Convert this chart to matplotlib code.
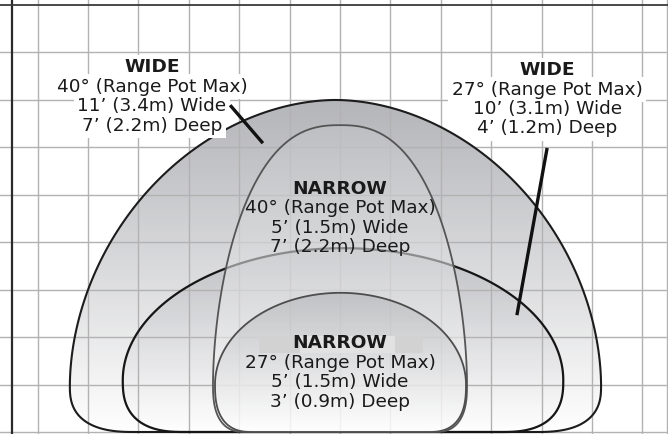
import numpy as np
import matplotlib

matplotlib.use("Agg")

import matplotlib.pyplot as plt
from matplotlib.path import Path
from matplotlib.patches import PathPatch, Rectangle
from matplotlib.colors import to_rgb


plt.rcParams["font.family"] = ["DejaVu Sans"]

# coverage patterns, in grid cells (x from centre line, y up from the floor)
names = ["wide40", "wide27", "narrow40", "narrow27"]
centres = [-0.09, 0.06, 0.0, 0.01]
half_widths = [5.27, 4.37, 2.52, 2.49]
tops = [6.99, 3.87, 6.46, 2.93]
widest_at = [0.97, 1.09, 1.0, 1.0]
corner_radius = [1.3, 1.23, 0.65, 0.75]
exp_x = [1.9, 2.0, 2.5, 2.0]
exp_y = [1.9, 2.0, 1.8, 2.0]

labels = {
    "wide40": ["WIDE", "40° (Range Pot Max)", "11’ (3.4m) Wide", "7’ (2.2m) Deep"],
    "wide27": ["WIDE", "27° (Range Pot Max)", "10’ (3.1m) Wide", "4’ (1.2m) Deep"],
    "narrow40": ["NARROW", "40° (Range Pot Max)", "5’ (1.5m) Wide", "7’ (2.2m) Deep"],
    "narrow27": ["NARROW", "27° (Range Pot Max)", "5’ (1.5m) Wide", "3’ (0.9m) Deep"],
}

styles = {
    "wide40": dict(edge="#1c1c1c", lw=1.5, top="#a7a8ad", alpha=0.85, z=2, ze=3.6),
    "wide27": dict(edge="#161616", lw=1.6, top="#b1b2b7", alpha=0.6, z=3, ze=3.7),
    "narrow40": dict(edge="#555555", lw=1.3, top="#c2c3c6", alpha=0.6, z=4, ze=4.5),
    "narrow27": dict(edge="#4d4d4d", lw=1.3, top="#b4b5b8", alpha=0.65, z=5, ze=5.5),
}

# px -> grid cell scale
cell_x, cell_y = 50.4, 47.5
x_lo, x_hi = (0 - 340) / cell_x, (668 - 340) / cell_x
y_lo, y_hi = (432 - 434) / cell_y, 432 / cell_y


def dome_path(cx, a, top, y0, rx, p, q, n=160):
    b = top - y0
    t = np.linspace(0, np.pi, n)
    xs = [cx + a * np.sign(np.cos(t)) * np.abs(np.cos(t)) ** (2 / p)]
    ys = [y0 + b * np.abs(np.sin(t)) ** (2 / q)]
    s = np.linspace(0, np.pi / 2, n // 3)
    e = 2 / 2.6
    # lower left corner
    xs.append(cx - a + rx - rx * np.abs(np.cos(s)) ** e)
    ys.append(y0 - y0 * np.abs(np.sin(s)) ** e)
    # lower right corner, back up to the start
    s = s[::-1]
    xs.append(cx + a - rx + rx * np.abs(np.cos(s)) ** e)
    ys.append(y0 - y0 * np.abs(np.sin(s)) ** e)
    verts = np.column_stack([np.concatenate(xs), np.concatenate(ys)])
    verts = np.vstack([verts, verts[:1]])
    return Path(verts, closed=True)


fig = plt.figure(figsize=(6.68, 4.34), dpi=100)
ax = fig.add_axes([0, 0, 1, 1])
ax.set_xlim(x_lo, x_hi)
ax.set_ylim(y_lo, y_hi)
ax.axis("off")

# grid sits above the wide fills, below the narrow ones
grid_kw = dict(color="#b2b2b2", lw=1.0, zorder=3.5)
for gx in range(-6, 7):
    ax.axvline(gx, **grid_kw)
for gy in range(0, 9):
    ax.axhline(gy, **grid_kw)
ax.axvline((667 - 340) / cell_x, **grid_kw)
ax.axvline((12.5 - 340) / cell_x, color="#2a2a2a", lw=1.6, zorder=20)
ax.axhline((432 - 5) / cell_y, color="#3a3a3a", lw=1.3, zorder=20)

for i, name in enumerate(names):
    st = styles[name]
    path = dome_path(centres[i], half_widths[i], tops[i], widest_at[i],
                     corner_radius[i], exp_x[i], exp_y[i])
    edge = PathPatch(path, facecolor="none", edgecolor=st["edge"],
                     lw=st["lw"], zorder=st["ze"])
    ax.add_patch(edge)
    clip = PathPatch(path, facecolor="none", edgecolor="none")
    ax.add_patch(clip)
    grad = np.linspace(0, 1, 256)[:, None, None]
    c_top = np.array(to_rgb(st["top"]))
    rgba = np.zeros((256, 1, 4))
    rgba[..., :3] = (1 - grad) * np.ones(3) + grad * c_top
    rgba[..., 3] = st["alpha"]
    img = ax.imshow(rgba, extent=[centres[i] - half_widths[i], centres[i] + half_widths[i], 0, tops[i]],
                    origin="lower", aspect="auto", interpolation="bilinear", zorder=st["z"])
    img.set_clip_path(clip)

ax.set_xlim(x_lo, x_hi)
ax.set_ylim(y_lo, y_hi)

# label blocks: centre x, first line y, line step
label_pos = {
    "wide40": (-3.73, 7.68, 0.41),
    "wide27": (4.11, 7.62, 0.41),
    "narrow40": (0.0, 5.12, 0.41),
    "narrow27": (0.0, 1.87, 0.41),
}
for name, (lx, ly, step) in label_pos.items():
    for k, line in enumerate(labels[name]):
        kw = dict(ha="center", va="center", fontsize=13.3,
                  fontweight="bold" if k == 0 else "normal")
        if name.startswith("wide"):
            # white knock-out behind the text, drawn under every line of the block
            ax.text(lx, ly - k * step, line, color="none", zorder=11,
                    bbox=dict(facecolor="white", edgecolor="none", pad=2.5), **kw)
        ax.text(lx, ly - k * step, line, color="#1a1a1a", zorder=12, **kw)

# grey bar behind the lower NARROW
ax.add_patch(Rectangle(((259 - 340) / cell_x, (432 - 353) / cell_y), 164 / cell_x, 17 / cell_y,
                       facecolor="#d2d2d2", edgecolor="none", zorder=9))
ax.add_patch(Rectangle(((300 - 340) / cell_x, (432 - 353) / cell_y), 95 / cell_x, 17 / cell_y,
                       facecolor="#e2e2e3", edgecolor="none", zorder=9.5))

# pointer lines
ax.plot([-2.18, -1.53], [6.88, 6.08], color="#111111", lw=2.4, solid_capstyle="butt", zorder=13)
ax.plot([4.11, 3.51], [5.98, 2.46], color="#111111", lw=2.4, solid_capstyle="butt", zorder=13)

fig.savefig("out.png", dpi=100)
